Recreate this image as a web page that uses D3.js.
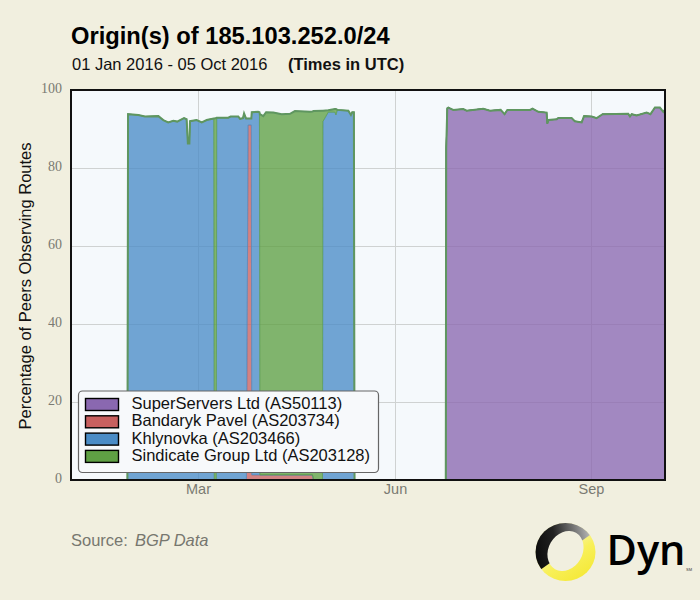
<!DOCTYPE html>
<html>

<head>
    <meta charset="utf-8">
    <script src="https://d3js.org/d3.v7.min.js"></script>
    <style>
        html, body {
            margin: 0;
            padding: 0;
            background: #f1efdf;
        }
        svg {
            display: block;
            font-family: 'Liberation Sans';
        }
    </style>
</head>

<body>
    <div id="container"></div>

    <script>
        // days since 01 Jan 2016
        const days = [
            26.4, 26.7, 31.5, 34.6, 40.9, 43.2, 45.5, 47.9, 49.7, 52.9, 54.1, 54.7, 55.4, 55.7, 58.8, 61.2, 63.5,
            66.8, 67.05, 68, 68.2, 73.6, 74.7, 78.3, 79.1, 80.5, 81, 81.9, 82.1, 82.9, 84.4, 84.6, 87.6, 88.2,
            88.4, 90, 91.3, 94.7, 98.6, 102.5, 104.8, 111.8, 113, 113.5, 117.7, 117.9, 120.4, 123.5, 124, 124.7,
            129.8, 131, 131.6, 132.4, 132.7,
            175.4, 175.6, 176.1, 176.6, 178.9, 183.6, 185.2, 192.9, 196.1, 201.1, 202.9, 204.2, 214.8, 216, 218.7,
            222.6, 222.9, 223.5, 227.3, 228, 234.3, 235.8, 239, 240.1, 243.7, 246, 248.8, 260.8, 261.6, 262.4,
            264.7, 269.4, 271.2, 273.3, 275.6, 277.2, 278
        ];
        const superServers = [
            0, 0, 0, 0, 0, 0, 0, 0, 0, 0, 0, 0, 0, 0, 0, 0, 0,
            0, 0, 0, 0, 0, 0, 0, 0, 0, 0, 0, 0, 0, 0, 0, 0, 0,
            0, 0, 0, 0, 0, 0, 0, 0, 0, 0, 0, 0, 0, 0, 0, 0,
            0, 0, 0, 0, 0,
            0, 85, 95.3, 95.5, 94.9, 95.1, 94.7, 95.2, 94.7, 94.9, 93.8, 94.9, 94.9, 95.2, 94.4,
            94.2, 91.4, 92.3, 92.5, 92.8, 92.8, 92, 91.7, 93.3, 93.2, 92.8, 93.8, 93.9, 93.2, 93.8,
            93.5, 94.2, 93.8, 95.5, 95.5, 94.4, 95
        ];
        const bandaryk = [
            0, 0, 0, 0, 0, 0, 0, 0, 0, 0, 0, 0, 0, 0, 0, 0, 0,
            0, 0, 0, 0, 0, 0, 0, 0, 0, 0, 0, 0, 91, 91, 1.3, 1.3, 1.3,
            1.3, 1.3, 1.3, 1.3, 1.3, 1.3, 1.3, 1.3, 1.3, 0, 0, 0, 0, 0, 0, 0,
            0, 0, 0, 0, 0,
            0, 0, 0, 0, 0, 0, 0, 0, 0, 0, 0, 0, 0, 0, 0,
            0, 0, 0, 0, 0, 0, 0, 0, 0, 0, 0, 0, 0, 0, 0,
            0, 0, 0, 0, 0, 0, 0
        ];
        const khlynovka = [
            0, 93.8, 93.6, 93.2, 93.3, 92.3, 91.7, 92.1, 91.9, 92.8, 92.5, 86.3, 86.3, 92, 92.3, 91.7, 92.3,
            92.7, 0, 0, 92.9, 92.9, 93.2, 93.2, 92.6, 92.8, 94, 92.7, 92.7, 1.7, 1.7, 93, 93.1, 93,
            0, 0, 0, 0, 0, 0, 0, 0, 0, 0, 0, 91.9, 94.3, 94.3, 93.6, 94.9,
            94.7, 93.6, 94.3, 94.3, 0,
            0, 0, 0, 0, 0, 0, 0, 0, 0, 0, 0, 0, 0, 0, 0,
            0, 0, 0, 0, 0, 0, 0, 0, 0, 0, 0, 0, 0, 0, 0,
            0, 0, 0, 0, 0, 0, 0
        ];
        const sindicate = [
            0, 0, 0, 0, 0, 0, 0, 0, 0, 0, 0, 0, 0, 0, 0, 0, 0,
            0, 92.7, 92.8, 0, 0, 0, 0, 0, 0, 0, 0, 0, 0, 0, 0, 0, 0,
            92.5, 92, 93, 92.9, 92.5, 92.6, 93.3, 93.1, 93.2, 94.6, 94.7, 2.8, 0.5, 0.8, 1.5, 0,
            0, 0, 0, 0, 0,
            0, 0, 0, 0, 0, 0, 0, 0, 0, 0, 0, 0, 0, 0, 0,
            0, 0, 0, 0, 0, 0, 0, 0, 0, 0, 0, 0, 0, 0, 0,
            0, 0, 0, 0, 0, 0, 0
        ];

        const seriesKeys = ['superServers', 'bandaryk', 'khlynovka', 'sindicate'];
        const seriesNames = ['SuperServers Ltd (AS50113)', 'Bandaryk Pavel (AS203734)', 'Khlynovka (AS203466)', 'Sindicate Group Ltd (AS203128)'];
        const seriesColors = ['#8a68b0', '#c8605f', '#4a8cc6', '#5fa044'];
        const yTicks = [0, 20, 40, 60, 80, 100];
        const xTickMonths = ['2016-03-01', '2016-06-01', '2016-09-01'];

        const width = 700;
        const height = 600;
        const plot = { left: 71, right: 665, top: 90, bottom: 480 };
        const edgeColor = '#5f9660';

        const start = Date.UTC(2016, 0, 1);
        const dayToDate = d => new Date(start + d * 864e5);

        const table = days.map((d, i) => ({
            date: dayToDate(d),
            superServers: superServers[i],
            bandaryk: bandaryk[i],
            khlynovka: khlynovka[i],
            sindicate: sindicate[i]
        }));

        const x = d3.scaleUtc()
            .domain([new Date(Date.UTC(2016, 0, 1)), new Date(Date.UTC(2016, 9, 5))])
            .range([plot.left, plot.right]);
        const y = d3.scaleLinear()
            .domain([0, 100])
            .range([plot.bottom, plot.top]);

        const svg = d3.select('#container')
            .append('svg')
            .attr('width', width)
            .attr('height', height);

        svg.append('rect')
            .attr('width', width)
            .attr('height', height)
            .attr('fill', '#f1efdf');

        svg.append('rect')
            .attr('x', plot.left)
            .attr('y', plot.top)
            .attr('width', plot.right - plot.left)
            .attr('height', plot.bottom - plot.top)
            .attr('fill', '#f5f9fc');

        // axes double as the grid
        const yAxis = svg.append('g')
            .attr('transform', `translate(${plot.left},0)`)
            .call(d3.axisLeft(y).tickValues(yTicks).tickSize(-(plot.right - plot.left)).tickPadding(9));
        const xAxis = svg.append('g')
            .attr('transform', `translate(0,${plot.bottom})`)
            .call(d3.axisBottom(x)
                .tickValues(xTickMonths.map(d => new Date(d)))
                .tickFormat(d3.utcFormat('%b'))
                .tickSize(-(plot.bottom - plot.top))
                .tickPadding(4));

        [yAxis, xAxis].forEach(a => {
            a.select('.domain').remove();
            a.selectAll('line').attr('stroke', '#cfd2d2').attr('stroke-width', 1);
        });
        xAxis.selectAll('.tick').attr('transform', d => `translate(${Math.round(x(d)) - 0.5},0)`);
        yAxis.selectAll('text')
            .attr('font-family', 'Liberation Serif')
            .attr('font-size', 14)
            .attr('dy', '0.17em')
            .attr('fill', '#7a7a72');
        xAxis.selectAll('text')
            .attr('font-family', 'Liberation Sans')
            .attr('font-size', 14.5)
            .attr('fill', '#7a7a72');

        // stacked areas, bottom to top in legend order
        const stacked = d3.stack().keys(seriesKeys)(table);

        const area = d3.area()
            .x(d => x(d.data.date))
            .y0(d => y(d[0]))
            .y1(d => y(d[1]));

        svg.append('g')
            .selectAll('path')
            .data(stacked)
            .join('path')
            .attr('d', area)
            .attr('fill', (d, i) => seriesColors[i])
            .attr('fill-opacity', 0.78)
            .attr('stroke', (d, i) => seriesColors[i])
            .attr('stroke-opacity', 0.6)
            .attr('stroke-width', 1);

        // the top series is zero-height most of the time, so its edge runs along the top
        const topLine = d3.line()
            .x(d => x(d.data.date))
            .y(d => y(d[1]));

        svg.append('path')
            .attr('d', topLine(stacked[stacked.length - 1]))
            .attr('fill', 'none')
            .attr('stroke', edgeColor)
            .attr('stroke-width', 2);

        // frame
        svg.append('rect')
            .attr('x', plot.left)
            .attr('y', plot.top)
            .attr('width', plot.right - plot.left)
            .attr('height', plot.bottom - plot.top)
            .attr('fill', 'none')
            .attr('stroke', '#111')
            .attr('stroke-width', 2);

        // titles
        svg.append('text')
            .attr('x', 71)
            .attr('y', 44)
            .attr('font-size', 23.7)
            .attr('font-weight', 'bold')
            .attr('fill', '#000')
            .text('Origin(s) of 185.103.252.0/24');
        svg.append('text')
            .attr('x', 72)
            .attr('y', 70)
            .attr('font-size', 16.5)
            .attr('fill', '#111')
            .text('01 Jan 2016 - 05 Oct 2016');
        svg.append('text')
            .attr('x', 288)
            .attr('y', 70)
            .attr('font-size', 16.5)
            .attr('font-weight', 'bold')
            .attr('fill', '#111')
            .text('(Times in UTC)');

        svg.append('text')
            .attr('transform', 'translate(31,286) rotate(-90)')
            .attr('text-anchor', 'middle')
            .attr('font-size', 16.5)
            .attr('fill', '#111')
            .text('Percentage of Peers Observing Routes');

        // legend
        const legend = svg.append('g');
        legend.append('rect')
            .attr('x', 78.5)
            .attr('y', 391)
            .attr('width', 300)
            .attr('height', 81.5)
            .attr('rx', 4)
            .attr('fill', '#f7f9fb')
            .attr('stroke', '#666')
            .attr('stroke-width', 1.2);

        const legendRows = legend.selectAll('g')
            .data(seriesNames)
            .join('g')
            .attr('transform', (d, i) => `translate(0,${398.5 + i * 17.3})`);
        legendRows.append('rect')
            .attr('x', 85.5)
            .attr('y', 0)
            .attr('width', 33)
            .attr('height', 12)
            .attr('fill', (d, i) => seriesColors[i])
            .attr('stroke', '#000')
            .attr('stroke-width', 1.4);
        legendRows.append('text')
            .attr('x', 131.5)
            .attr('y', 10.5)
            .attr('font-size', 16.5)
            .attr('fill', '#111')
            .text(d => d);

        // source
        const source = svg.append('text')
            .attr('x', 71)
            .attr('y', 546)
            .attr('font-size', 16.5)
            .attr('fill', '#77776f');
        source.append('tspan').text('Source:');
        source.append('tspan')
            .attr('dx', 7)
            .attr('font-style', 'italic')
            .text('BGP Data');

        // Dyn logo: yellow ring, dark part clipped over it, then the hole
        const defs = svg.append('defs');
        const yellow = defs.append('linearGradient')
            .attr('id', 'ringYellow')
            .attr('x1', 0.35).attr('y1', 0.35)
            .attr('x2', 0.75).attr('y2', 0.95);
        [[0, '#f6f2b0'], [0.45, '#f8f05a'], [1, '#f5e93a']]
            .forEach(s => yellow.append('stop').attr('offset', s[0]).attr('stop-color', s[1]));
        const dark = defs.append('linearGradient')
            .attr('id', 'ringDark')
            .attr('x1', 0).attr('y1', 0.5)
            .attr('x2', 1).attr('y2', 0.3);
        [[0, '#0c0c0c'], [0.35, '#222'], [0.7, '#777'], [0.95, '#bbb']]
            .forEach(s => dark.append('stop').attr('offset', s[0]).attr('stop-color', s[1]));
        defs.append('clipPath')
            .attr('id', 'ringClip')
            .append('polygon')
            .attr('points', '530,577 590,535 600,515 530,515');

        const logo = svg.append('g');
        logo.append('ellipse')
            .attr('cx', 565.5).attr('cy', 552)
            .attr('rx', 30).attr('ry', 29)
            .attr('fill', 'url(#ringYellow)');
        logo.append('ellipse')
            .attr('cx', 565.5).attr('cy', 552)
            .attr('rx', 30).attr('ry', 29)
            .attr('fill', 'url(#ringDark)')
            .attr('clip-path', 'url(#ringClip)');
        logo.append('ellipse')
            .attr('transform', 'rotate(-60 565.5 551)')
            .attr('cx', 565.5).attr('cy', 551)
            .attr('rx', 21).attr('ry', 17)
            .attr('fill', '#f1efdf');
        logo.append('text')
            .attr('x', 606.5)
            .attr('y', 565)
            .attr('font-family', 'Open Sans')
            .attr('font-weight', 600)
            .attr('font-size', 41.5)
            .attr('fill', '#000')
            .text('Dyn');
        logo.append('text')
            .attr('x', 686)
            .attr('y', 571)
            .attr('font-size', 4)
            .attr('fill', '#333')
            .text('SM');
    </script>
</body>

</html>
